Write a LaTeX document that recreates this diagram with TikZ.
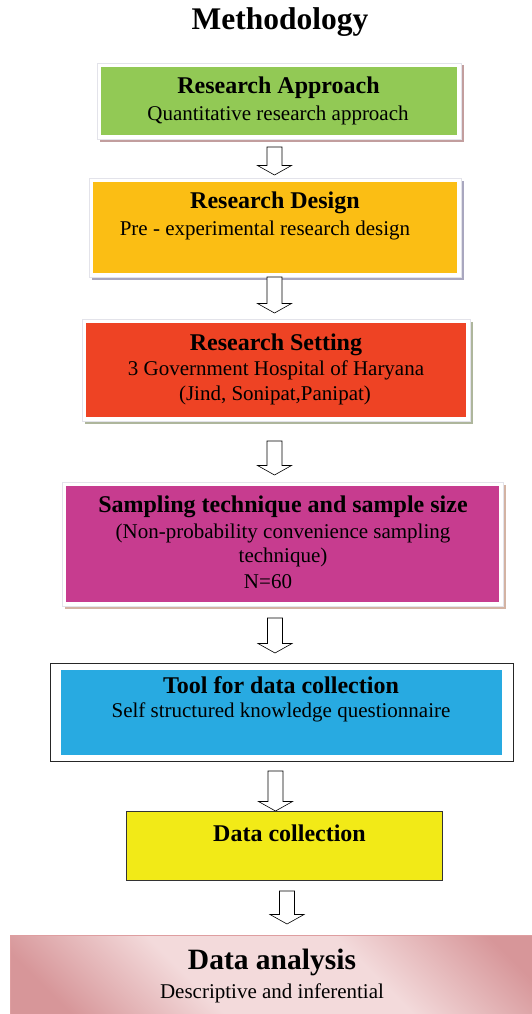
\documentclass[tikz,border=0pt]{standalone}
\usepackage{fontspec}
\setmainfont{Liberation Serif}
\usetikzlibrary{calc,shadows}

\definecolor{cgreen}{HTML}{92C955}
\definecolor{corange}{HTML}{FBBE14}
\definecolor{cred}{HTML}{EE4324}
\definecolor{cmagenta}{HTML}{C73C8F}
\definecolor{cblue}{HTML}{28AAE1}
\definecolor{cyellow}{HTML}{F2EA17}
\definecolor{framegray}{HTML}{E3E3EA}
\definecolor{shA}{HTML}{C29E9E}
\definecolor{shB}{HTML}{A9A7BF}
\definecolor{shC}{HTML}{AEB69C}
\definecolor{shD}{HTML}{D3B3A3}
\definecolor{pinkdark}{HTML}{D79699}
\definecolor{pinklight}{HTML}{F3DADB}
\definecolor{pinkedge}{HTML}{DE9EA0}

% diagonal pink bands for the last box
\pgfdeclarehorizontalshading{pinkbands}{100bp}{color(0bp)=(pinkdark); color(22bp)=(pinkdark); color(40bp)=(pinklight); color(62bp)=(pinklight); color(80bp)=(pinkdark); color(100bp)=(pinkdark)}

\tikzset{
  panel/.style 2 args={rectangle, draw=framegray, line width=0.6pt, fill=white, inner sep=0pt,
    drop shadow={shadow xshift=2.5pt, shadow yshift=-2.5pt, fill=#2, opacity=1},
    path picture={\fill[#1] ([shift={(4pt,4pt)}]path picture bounding box.south west)
      rectangle ([shift={(-4pt,-4pt)}]path picture bounding box.north east);}},
  toolpanel/.style={rectangle, draw=black!85, line width=0.9pt, fill=white, inner sep=0pt,
    path picture={\fill[cblue] ([shift={(11pt,6.5pt)}]path picture bounding box.south west)
      rectangle ([shift={(-11pt,-6.5pt)}]path picture bounding box.north east);}},
  plainpanel/.style={rectangle, draw=black!80, line width=0.8pt, fill=cyellow, inner sep=0pt},
  head/.style={font=\fontsize{24}{28}\selectfont\bfseries, inner sep=0pt},
  sub/.style={font=\fontsize{21}{25}\selectfont, inner sep=0pt},
  blockarrow/.style={draw=black, line width=0.6pt, fill=white, line join=miter,
    to path={($(\tikztostart)+(-7.5pt,0pt)$) -- ($(\tikztotarget)+(-7.5pt,9.5pt)$)
      -- ($(\tikztotarget)+(-17pt,9.5pt)$) -- (\tikztotarget)
      -- ($(\tikztotarget)+(17pt,9.5pt)$) -- ($(\tikztotarget)+(7.5pt,9.5pt)$)
      -- ($(\tikztostart)+(7.5pt,0pt)$) -- cycle}}
}

\begin{document}
\begin{tikzpicture}[x=1pt, y=-1pt]
\useasboundingbox (0,0) rectangle (532,1014);
\fill[white] (0,0) rectangle (532,1014);
\clip (0,0) rectangle (532,1014);

% title
\node[font=\fontsize{31.5}{36}\selectfont\bfseries, inner sep=0pt] (title) at (280,22) {Methodology};

% boxes
\node[panel={cgreen}{shA}, minimum width=364, minimum height=76] (approach) at (279,101) {};
\node[panel={corange}{shB}, minimum width=372, minimum height=99] (design) at (275,227.5) {};
\node[panel={cred}{shC}, minimum width=388, minimum height=102] (setting) at (276,370) {};
\node[panel={cmagenta}{shD}, minimum width=441, minimum height=124] (sampling) at (282.5,544) {};
\node[toolpanel, minimum width=463, minimum height=98] (tool) at (281.5,712) {};
\node[plainpanel, minimum width=316, minimum height=69] (collect) at (284,845.5) {};
\path[shading=pinkbands, shading angle=45] (10,935) rectangle (535,1017);
\draw[pinkedge, line width=0.8pt] (535,935) -- (10,935) -- (10,1017);
\node[inner sep=0pt, minimum width=525, minimum height=82] (analysis) at (272.5,976) {};

% texts
\node[head] (approachT) at (278.5,88) {Research Approach};
\node[sub]  (approachS) at (278,115) {Quantitative research approach};

\node[head] (designT) at (275,203) {Research Design};
\node[sub]  (designS) at (265,230) {Pre - experimental research design};

\node[head] (settingT) at (276,345) {Research Setting};
\node[sub]  (settingS1) at (276,370) {3 Government Hospital of Haryana};
\node[sub]  (settingS2) at (275,395) {(Jind, Sonipat,Panipat)};

\node[head] (samplingT) at (283,507) {Sampling technique and sample size};
\node[sub]  (samplingS1) at (283,533) {(Non-probability convenience sampling};
\node[sub]  (samplingS2) at (283,557) {technique)};
\node[sub]  (samplingS3) at (268,582) {N=60};

\node[head] (toolT) at (281,685) {Tool for data collection};
\node[sub]  (toolS) at (281,712) {Self structured knowledge questionnaire};

\node[head] (collectT) at (289.5,833) {Data collection};

\node[font=\fontsize{29.5}{34}\selectfont\bfseries, inner sep=0pt] (analysisT) at (272,962) {Data analysis};
\node[sub] (analysisS) at (272,993) {Descriptive and inferential};

% block arrows between the stages
\coordinate (a1s) at (274.5,147); \coordinate (a1t) at (274.5,175);
\coordinate (a2s) at (274.5,277); \coordinate (a2t) at (274.5,313);
\coordinate (a3s) at (274.5,441); \coordinate (a3t) at (274.5,475);
\coordinate (a4s) at (275,618);   \coordinate (a4t) at (275,653);
\coordinate (a5s) at (275.5,771); \coordinate (a5t) at (275.5,811);
\coordinate (a6s) at (287,891);   \coordinate (a6t) at (287,924);
\draw[blockarrow] (a1s) to (a1t);
\draw[blockarrow] (a2s) to (a2t);
\draw[blockarrow] (a3s) to (a3t);
\draw[blockarrow] (a4s) to (a4t);
\draw[blockarrow] (a5s) to (a5t);
\draw[blockarrow] (a6s) to (a6t);
\end{tikzpicture}
\end{document}
